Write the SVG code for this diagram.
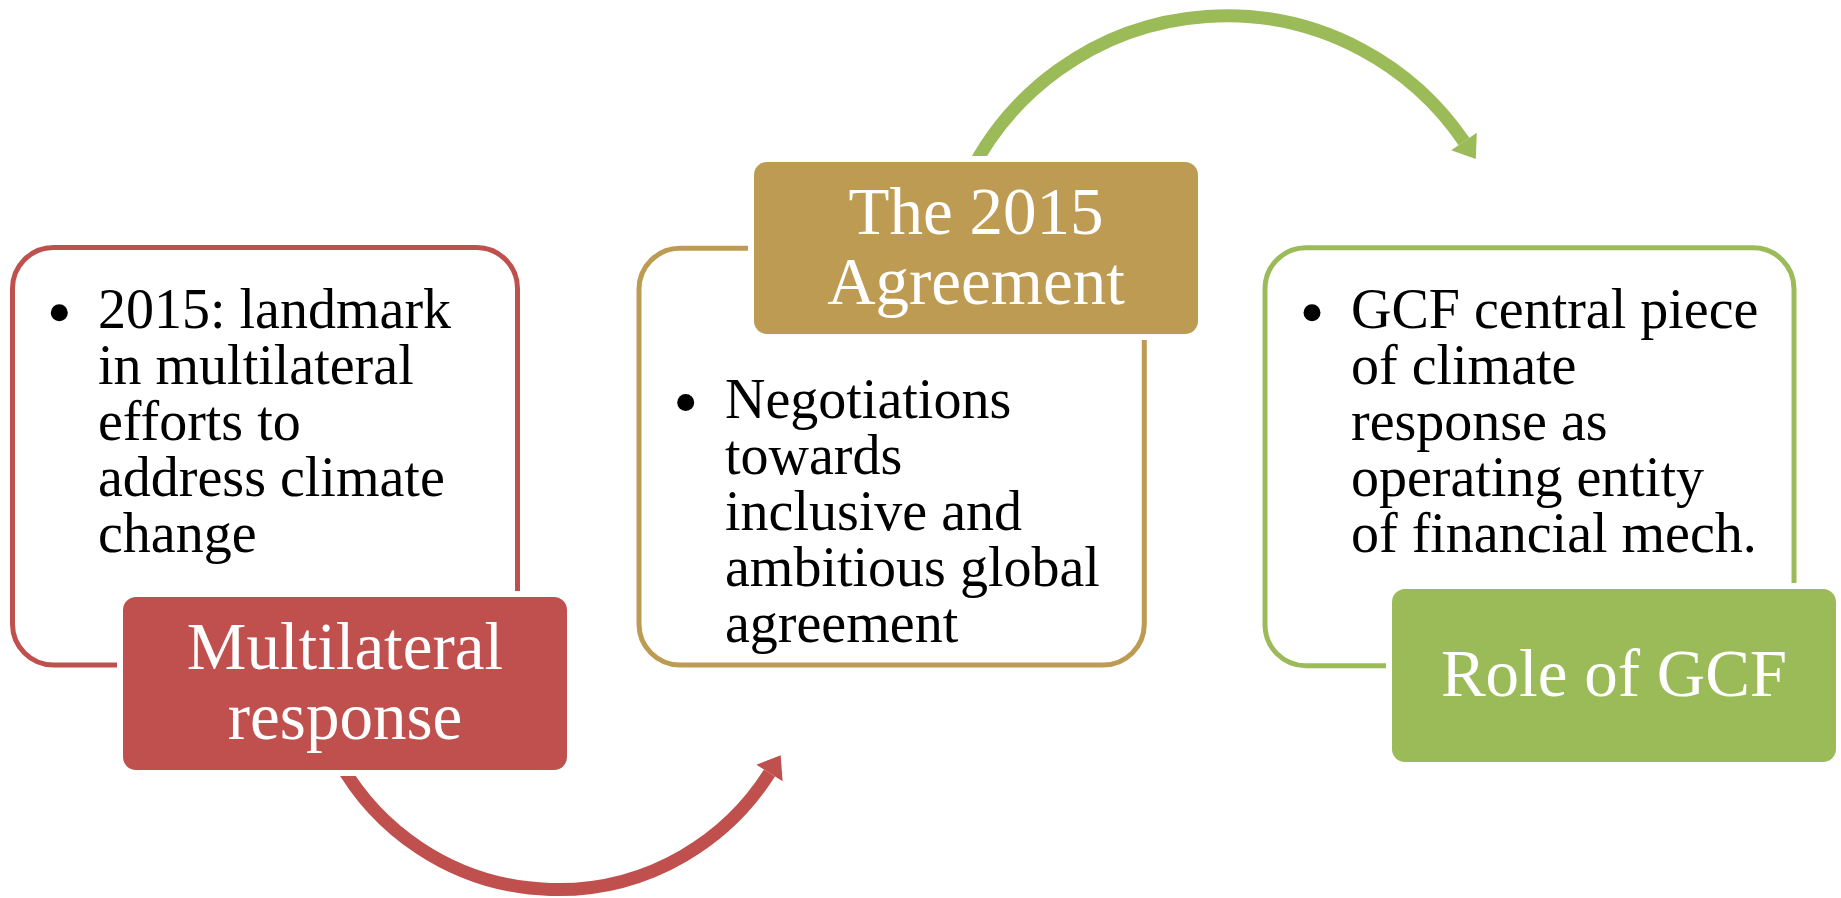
<svg xmlns="http://www.w3.org/2000/svg" width="1841" height="898" viewBox="0 0 1841 898">
<style>
.frame{fill:#FFFFFF;stroke-width:5}
.halo{fill:#FFFFFF}
.title{font-family:"Liberation Serif","Times New Roman",serif;font-size:67px;fill:#FFFFFF;text-anchor:middle}
.body{font-family:"Liberation Serif","Times New Roman",serif;font-size:56px;fill:#000000}
.dot{fill:#000000}
.arc{fill:none;stroke-width:13}
</style>
<rect width="1841" height="898" fill="#FFFFFF"/>
<g id="connectors">
  <path class="arc" stroke="#C0504D" d="M 338.3 760 A 250.6 250.6 0 0 0 769.5 773"/>
  <polygon fill="#C0504D" points="780.7,755.3 782.6,781.3 756.4,764.7"/>
  <path class="arc" stroke="#9BBB59" d="M 969 175 A 287.5 287.5 0 0 1 1464 141.5"/>
  <polygon fill="#9BBB59" points="1475.8,158.9 1476.8,132.8 1451.2,150.2"/>
</g>
<g id="node-multilateral">
  <rect class="frame" stroke="#C0504D" x="12.5" y="247.5" width="505" height="417.5" rx="41"/>
  <circle class="dot" cx="59.3" cy="312.7" r="8.5"/>
  <text class="body" x="98" y="328">2015: landmark</text>
  <text class="body" x="98" y="384">in multilateral</text>
  <text class="body" x="98" y="440">efforts to</text>
  <text class="body" x="98" y="496">address climate</text>
  <text class="body" x="98" y="552">change</text>
  <rect class="halo" x="117" y="591" width="456" height="185" rx="19"/>
  <rect fill="#C0504D" x="123" y="597" width="444" height="173" rx="13"/>
  <text class="title" x="345" y="669">Multilateral</text>
  <text class="title" x="345" y="739">response</text>
</g>
<g id="node-agreement">
  <rect class="frame" stroke="#BE9B53" x="639" y="248.3" width="505.3" height="416.7" rx="41"/>
  <circle class="dot" cx="685.7" cy="402.5" r="8.5"/>
  <text class="body" x="725" y="418">Negotiations</text>
  <text class="body" x="725" y="474">towards</text>
  <text class="body" x="725" y="530">inclusive and</text>
  <text class="body" x="725" y="586">ambitious global</text>
  <text class="body" x="725" y="642">agreement</text>
  <rect class="halo" x="748" y="156" width="456" height="184" rx="19"/>
  <rect fill="#BE9B53" x="754" y="162" width="444" height="172" rx="13"/>
  <text class="title" x="976" y="234">The 2015</text>
  <text class="title" x="976" y="304">Agreement</text>
</g>
<g id="node-gcf">
  <rect class="frame" stroke="#9BBB59" x="1265" y="247.7" width="529" height="418" rx="41"/>
  <circle class="dot" cx="1312" cy="312.7" r="8.5"/>
  <text class="body" x="1351" y="328">GCF central piece</text>
  <text class="body" x="1351" y="384">of climate</text>
  <text class="body" x="1351" y="440">response as</text>
  <text class="body" x="1351" y="496">operating entity</text>
  <text class="body" x="1351" y="552">of financial mech.</text>
  <rect class="halo" x="1386" y="583" width="456" height="185" rx="19"/>
  <rect fill="#9BBB59" x="1392" y="589" width="444" height="173" rx="13"/>
  <text class="title" x="1614" y="696">Role of GCF</text>
</g>
</svg>
